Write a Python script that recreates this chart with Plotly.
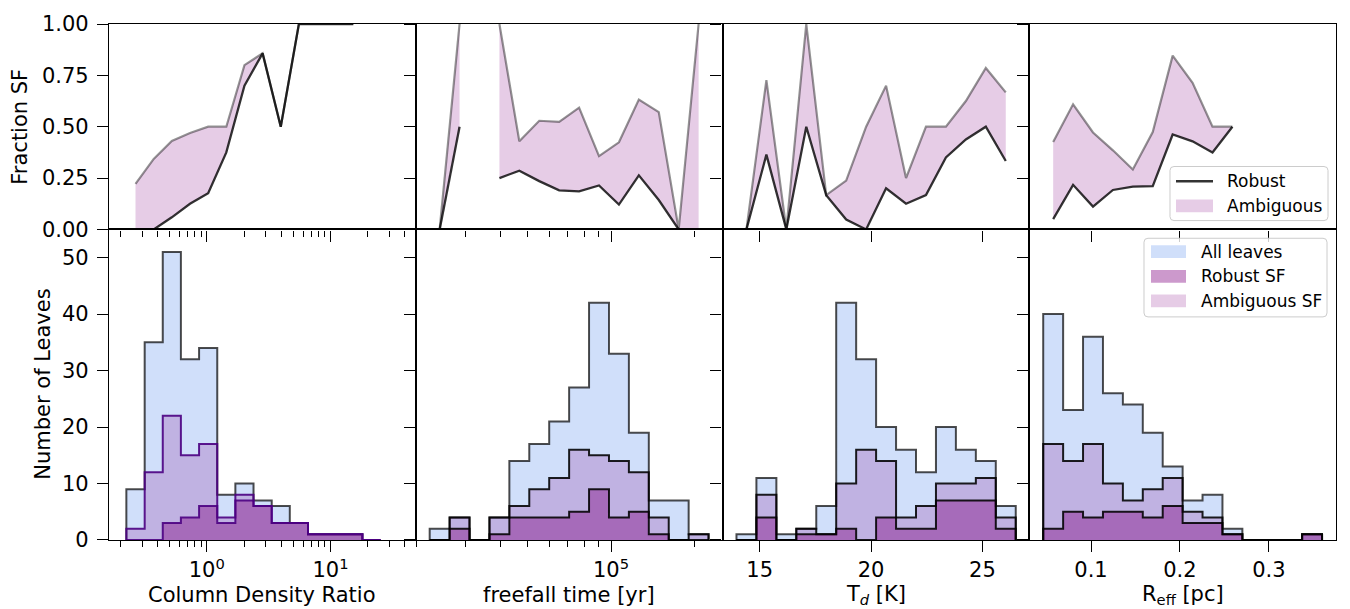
import math
import plotly.graph_objects as go
from plotly.subplots import make_subplots

# ---------------- data ----------------
# Column density ratio (log bins)
cdr_edges = [0.224, 0.315, 0.441, 0.618, 0.867, 1.216, 1.703, 2.388, 3.350, 4.690, 6.577, 9.226, 12.91, 18.11, 25.41]
cdr_all = [9, 35, 51, 32, 34, 8, 10, 7, 6, 3, 1, 1, 1, 0]
cdr_amb = [2, 12, 22, 15, 17, 4, 8, 6, 3, 3, 1, 1, 1, 0]
cdr_rob = [0, 0, 3, 4, 6, 3, 7, 6, 3, 3, 1, 1, 1, 0]
cdr_frac_amb = [0.222, 0.343, 0.431, 0.469, 0.500, 0.500, 0.800, 0.857, 0.500, 1.0, 1.0, 1.0, 1.0, None]
cdr_frac_rob = [0.0, 0.0, 0.059, 0.125, 0.176, 0.375, 0.700, 0.857, 0.500, 1.0, 1.0, 1.0, 1.0, None]

# Freefall time [yr] (log bins)
tff_edges = [22336, 26336, 31046, 36610, 43152, 50875, 59979, 70714, 83368, 98288, 115878, 136615, 161065, 189888, 223872]
tff_all = [2, 4, 0, 4, 14, 17, 21, 27, 42, 33, 19, 7, 7, 1]
tff_amb = [0, 4, 0, 4, 6, 9, 11, 16, 15, 14, 12, 4, 0, 1]
tff_rob = [0, 2, 0, 1, 4, 4, 4, 5, 9, 4, 5, 1, 0, 0]
tff_frac_amb = [0.0, 1.0, None, 1.0, 0.429, 0.529, 0.524, 0.593, 0.357, 0.424, 0.632, 0.571, 0.0, 1.0]
tff_frac_rob = [0.0, 0.5, None, 0.25, 0.286, 0.235, 0.190, 0.185, 0.214, 0.121, 0.263, 0.143, 0.0, 0.0]

# Dust temperature T_d [K]
td_edges = [13.957, 14.852, 15.748, 16.643, 17.539, 18.434, 19.330, 20.225, 21.121, 22.016, 22.912, 23.807, 24.703, 25.598, 26.494]
td_all = [1, 11, 1, 2, 6, 42, 32, 20, 16, 12, 20, 16, 14, 6]
td_amb = [0, 8, 0, 2, 1, 10, 16, 14, 4, 6, 10, 10, 11, 4]
td_rob = [0, 4, 0, 1, 1, 2, 0, 4, 2, 2, 7, 7, 7, 2]
td_frac_amb = [0.0, 0.727, 0.0, 1.0, 0.167, 0.238, 0.500, 0.700, 0.250, 0.500, 0.500, 0.625, 0.786, 0.667]
td_frac_rob = [0.0, 0.364, 0.0, 0.5, 0.167, 0.048, 0.0, 0.200, 0.125, 0.167, 0.350, 0.438, 0.500, 0.333]

# Effective radius R_eff [pc]
reff_edges = [0.0462, 0.0686, 0.0910, 0.1134, 0.1358, 0.1582, 0.1806, 0.2030, 0.2254, 0.2478, 0.2702, 0.2926, 0.3150, 0.3374, 0.3598]
reff_all = [40, 23, 36, 26, 24, 19, 13, 7, 8, 2, 0, 0, 0, 1]
reff_amb = [17, 14, 17, 10, 7, 9, 11, 5, 4, 1, 0, 0, 0, 1]
reff_rob = [2, 5, 4, 5, 5, 4, 6, 3, 3, 1, 0, 0, 0, 1]
reff_frac_amb = [0.425, 0.609, 0.472, 0.385, 0.292, 0.474, 0.846, 0.714, 0.500, 0.500, None, None, None, 1.0]
reff_frac_rob = [0.050, 0.217, 0.111, 0.192, 0.208, 0.211, 0.462, 0.429, 0.375, 0.500, None, None, None, 1.0]

x_titles = ["Column Density Ratio", "freefall time [yr]", "T<sub><i>d</i></sub> [K]", "R<sub>eff</sub> [pc]"]
frac_ticks = [0.0, 0.25, 0.5, 0.75, 1.0]
frac_ticktext = ["0.00", "0.25", "0.50", "0.75", "1.00"]
count_ticks = [0, 10, 20, 30, 40, 50]

legend_top = ["Robust", "Ambiguous"]
legend_bottom = ["All leaves", "Robust SF", "Ambiguous SF"]

# ---------------- styles ----------------
FONT = "DejaVu Sans"
FS = 21
C_ALL_FILL = "rgba(100,149,237,0.3)"
C_ROB_FILL = "rgba(128,0,128,0.4)"
C_AMB_FILL = "rgba(128,0,128,0.2)"
C_ALL_EDGE = "rgba(0,0,0,0.7)"
C_SF_EDGE = "rgba(0,0,0,0.88)"
C_SF_EDGE_1 = "rgba(75,0,130,0.9)"
C_ROB_LINE = "rgba(0,0,0,0.8)"
C_AMB_LINE = "rgba(0,0,0,0.42)"

panels = [
    dict(edges=cdr_edges, all=cdr_all, amb=cdr_amb, rob=cdr_rob, famb=cdr_frac_amb, frob=cdr_frac_rob,
         log=True, sf_edge=C_SF_EDGE_1),
    dict(edges=tff_edges, all=tff_all, amb=tff_amb, rob=tff_rob, famb=tff_frac_amb, frob=tff_frac_rob,
         log=True, sf_edge=C_SF_EDGE),
    dict(edges=td_edges, all=td_all, amb=td_amb, rob=td_rob, famb=td_frac_amb, frob=td_frac_rob,
         log=False, sf_edge=C_SF_EDGE),
    dict(edges=reff_edges, all=reff_all, amb=reff_amb, rob=reff_rob, famb=reff_frac_amb, frob=reff_frac_rob,
         log=False, sf_edge=C_SF_EDGE),
]

axis_cfg = [
    dict(type="log", range=[-0.79, 1.689], tickvals=[1, 10], ticktext=["10<sup>0</sup>", "10<sup>1</sup>"],
         minor=[0.2, 0.3, 0.4, 0.5, 0.6, 0.7, 0.8, 0.9, 2, 3, 4, 5, 6, 7, 8, 9, 20, 30, 40]),
    dict(type="log", range=[4.299, 5.400], tickvals=[1e5], ticktext=["10<sup>5</sup>"],
         minor=[2e4, 3e4, 4e4, 5e4, 6e4, 7e4, 8e4, 9e4, 2e5]),
    dict(type="linear", range=[13.33, 27.1], tickvals=[15, 20, 25], ticktext=["15", "20", "25"], minor=None),
    dict(type="linear", range=[0.0305, 0.3755], tickvals=[0.1, 0.2, 0.3], ticktext=["0.1", "0.2", "0.3"], minor=None),
]


def step_xy(edges, counts):
    xs = [edges[0]]
    ys = [0]
    for i, c in enumerate(counts):
        xs.append(edges[i])
        ys.append(c)
    xs.append(edges[-1])
    ys.append(counts[-1])
    xs.append(edges[-1])
    ys.append(0)
    return xs, ys


def centers(edges, log):
    if log:
        return [math.sqrt(edges[i] * edges[i + 1]) for i in range(len(edges) - 1)]
    return [(edges[i] + edges[i + 1]) / 2 for i in range(len(edges) - 1)]


def runs(a, b):
    out, cur = [], []
    for i in range(len(a)):
        if a[i] is None or b[i] is None:
            if cur:
                out.append(cur)
            cur = []
        else:
            cur.append(i)
    if cur:
        out.append(cur)
    return out


fig = make_subplots(rows=2, cols=4, horizontal_spacing=0, vertical_spacing=0,
                    row_heights=[209 / 525, 316 / 525])

for ci, p in enumerate(panels):
    col = ci + 1
    xc = centers(p["edges"], p["log"])
    # --- top: fraction SF ---
    for run in runs(p["famb"], p["frob"]):
        if len(run) < 2:
            continue
        px_ = [xc[i] for i in run] + [xc[i] for i in reversed(run)]
        py_ = [p["famb"][i] for i in run] + [p["frob"][i] for i in reversed(run)]
        fig.add_trace(go.Scatter(x=px_, y=py_, fill="toself", fillcolor=C_AMB_FILL, mode="lines",
                                 line=dict(width=0), hoverinfo="skip", showlegend=False), row=1, col=col)
    fig.add_trace(go.Scatter(x=xc, y=p["famb"], mode="lines", line=dict(color=C_AMB_LINE, width=2.2),
                             showlegend=False, name="Ambiguous"), row=1, col=col)
    fig.add_trace(go.Scatter(x=xc, y=p["frob"], mode="lines", line=dict(color=C_ROB_LINE, width=2.3),
                             showlegend=False, name="Robust"), row=1, col=col)
    # --- bottom: histograms ---
    for counts, fillc, edgec, nm in [(p["all"], C_ALL_FILL, C_ALL_EDGE, "All leaves"),
                                     (p["amb"], C_AMB_FILL, p["sf_edge"], "Ambiguous SF"),
                                     (p["rob"], C_ROB_FILL, p["sf_edge"], "Robust SF")]:
        sx, sy = step_xy(p["edges"], counts)
        fig.add_trace(go.Scatter(x=sx, y=sy, mode="lines", line=dict(color=edgec, width=2, shape="hv"),
                                 fill="tozeroy", fillcolor=fillc, showlegend=False, name=nm), row=2, col=col)

# ---------------- axes ----------------
common = dict(showline=True, linecolor="black", linewidth=1.3, mirror=True, ticks="outside",
              ticklen=11, tickwidth=1.3, tickcolor="black", showgrid=False, zeroline=False,
              tickfont=dict(family=FONT, size=FS, color="black"))

for ci, a in enumerate(axis_cfg):
    col = ci + 1
    for row in (1, 2):
        kw = dict(common)
        kw.update(type=a["type"], range=a["range"], tickmode="array", tickvals=a["tickvals"],
                  ticktext=a["ticktext"], showticklabels=(row == 2))
        if a["minor"]:
            kw["minor"] = dict(tickmode="array", tickvals=a["minor"], ticks="outside", ticklen=6,
                               tickwidth=1.1, tickcolor="black", showgrid=False)
        fig.update_xaxes(row=row, col=col, **kw)
    fig.update_yaxes(row=1, col=col, **common, range=[0, 1], tickmode="array", tickvals=frac_ticks,
                     ticktext=frac_ticktext, showticklabels=(col == 1), ticklabelstandoff=4)
    fig.update_yaxes(row=2, col=col, **common, range=[0, 55], tickmode="array", tickvals=count_ticks,
                     showticklabels=(col == 1), ticklabelstandoff=4)

# ---------------- titles & legends ----------------
L, R, T, B = 109, 14, 15, 69
W, H = 1350, 609
PW, PH = W - L - R, H - T - B


def xp(x):
    return (x - L) / PW


def yp(y):
    return (H - B - y) / PH


ann = []
ann.append(dict(x=xp(20), y=yp(119.5), text="Fraction SF", textangle=-90))
ann.append(dict(x=xp(43), y=yp(382), text="Number of Leaves", textangle=-90))
for ci, t in enumerate(x_titles):
    cx = L + PW * (ci + 0.5) / 4
    ann.append(dict(x=xp(cx), y=yp(596), text=t))
for a in ann:
    a.update(xref="paper", yref="paper", showarrow=False, xanchor="center", yanchor="middle",
             font=dict(family=FONT, size=FS, color="black"))

shapes = []


def rounded(x0, y0, x1, y1, r=4):
    pts = [("M", x0 + r, y0), ("L", x1 - r, y0), ("Q", x1, y0, x1, y0 + r), ("L", x1, y1 - r),
           ("Q", x1, y1, x1 - r, y1), ("L", x0 + r, y1), ("Q", x0, y1, x0, y1 - r), ("L", x0, y0 + r),
           ("Q", x0, y0, x0 + r, y0)]
    s = ""
    for p in pts:
        cmd = p[0]
        coords = p[1:]
        parts = []
        for k in range(0, len(coords), 2):
            parts.append(f"{xp(coords[k]):.5f},{yp(coords[k + 1]):.5f}")
        s += cmd + " " + " ".join(parts) + " "
    return s + "Z"


def rect(x0, y0, x1, y1, color):
    return dict(type="rect", xref="paper", yref="paper", x0=xp(x0), x1=xp(x1), y0=yp(y1), y1=yp(y0),
                fillcolor=color, line=dict(width=0))


# top legend
shapes.append(dict(type="path", xref="paper", yref="paper", path=rounded(1170, 160, 1328, 215),
                   fillcolor="rgba(255,255,255,0.8)", line=dict(color="#cccccc", width=1)))
shapes.append(dict(type="line", xref="paper", yref="paper", x0=xp(1176), x1=xp(1213), y0=yp(175), y1=yp(175),
                   line=dict(color=C_ROB_LINE, width=2.3)))
shapes.append(rect(1176, 193.5, 1213, 206.5, C_AMB_FILL))
for i, t in enumerate(legend_top):
    ann.append(dict(xref="paper", yref="paper", x=xp(1225), y=yp(175 + 25 * i), text=t, showarrow=False,
                    xanchor="left", yanchor="middle", font=dict(family=FONT, size=17, color="black")))

# bottom legend
shapes.append(dict(type="path", xref="paper", yref="paper", path=rounded(1144, 233, 1327, 313),
                   fillcolor="rgba(255,255,255,0.8)", line=dict(color="#cccccc", width=1)))
for i, (t, c) in enumerate(zip(legend_bottom, [C_ALL_FILL, C_ROB_FILL, C_AMB_FILL])):
    yc = 246.7 + 25 * i
    shapes.append(rect(1151, yc - 6.5, 1186, yc + 6.5, c))
    ann.append(dict(xref="paper", yref="paper", x=xp(1199), y=yp(yc), text=t, showarrow=False,
                    xanchor="left", yanchor="middle", font=dict(family=FONT, size=17, color="black")))

fig.update_layout(width=W, height=H, margin=dict(l=L, r=R, t=T, b=B),
                  paper_bgcolor="white", plot_bgcolor="white", showlegend=False,
                  font=dict(family=FONT, size=FS, color="black"),
                  annotations=ann, shapes=shapes)

fig.write_html("out.html")
